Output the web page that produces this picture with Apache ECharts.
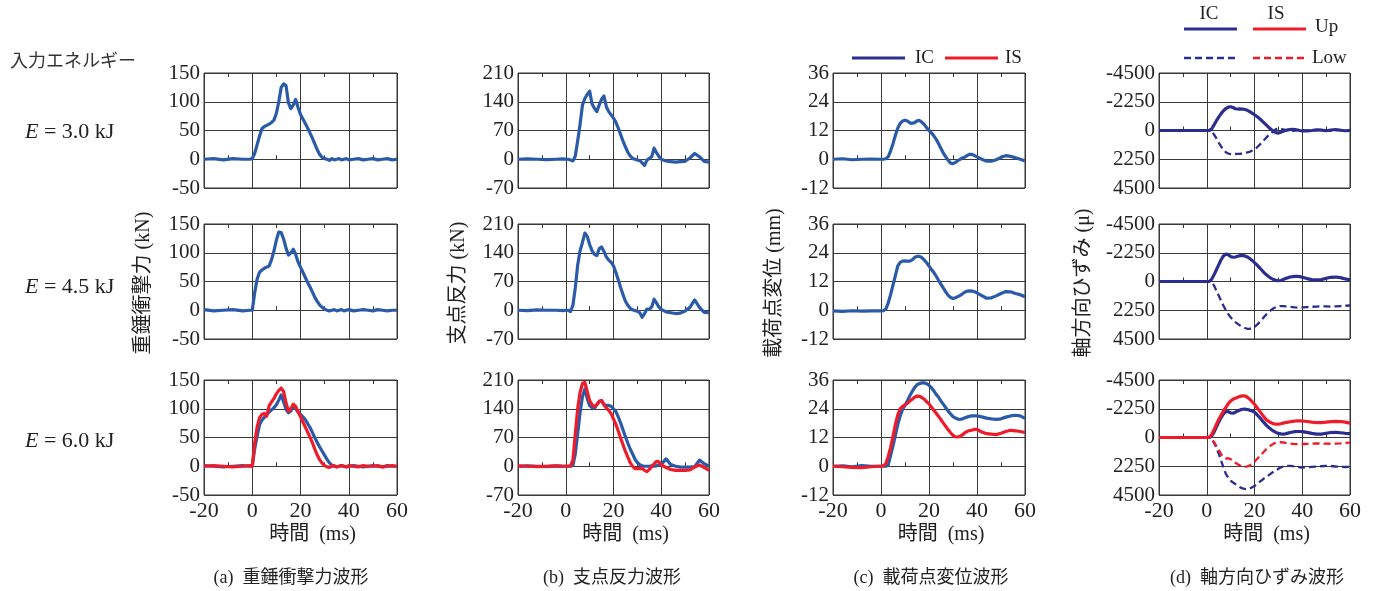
<!DOCTYPE html>
<html>
<head>
<meta charset="utf-8">
<script src="https://cdn.jsdelivr.net/npm/echarts@6/dist/echarts.min.js"></script>
<style>
html,body{margin:0;padding:0;background:#fff;}
#c{width:1379px;height:591px;}
</style>
</head>
<body>
<div id="c"></div>
<script>
// shared time axis (ms)
const time = [-20,-16,-12,-8,-4,-1,
  0,1,2,3,4,5,6,7,8,9,10,11,12,13,14,15,16,17,18,19,20,21,22,23,24,25,26,27,28,29,30,31,32,33,34,35,36,37,38,39,40,
  42,44,46,48,50,52,54,56,58,60];

// (a) 重錘衝撃力 (kN)
const a1_IC = [0,1,-1,1,0,0,
  1,10,25,40,53,57,59,61,64,68,80,100,125,131,128,98,88,94,104,90,78,70,62,54,45,36,26,16,8,3,1,0,-2,1,-1,0,1,-1,0,1,-1,
  0,1,-1,0,1,-1,0,1,-1,0];
const a2_IC = [1,-1,0,1,-1,0,
  0,30,54,66,70,73,75,77,88,103,122,136,135,124,108,96,100,106,97,84,75,66,57,48,40,31,22,15,9,5,2,0,-1,0,1,-1,0,1,-1,0,1,
  -1,0,1,0,-1,1,0,-1,0,0];
const a3_IC = [1,0,-1,0,1,0,
  0,30,52,72,80,85,90,94,98,102,107,115,124,112,99,93,96,105,100,94,90,86,81,74,67,58,49,41,33,26,19,12,6,2,0,-1,0,1,0,-1,0,
  1,0,-1,0,1,0,-1,1,0,0];
const a3_IS = [0,1,0,-1,0,1,
  0,40,68,84,90,92,87,105,112,118,126,132,136,130,110,96,100,108,104,95,86,77,68,59,50,40,29,19,11,5,1,-1,-2,0,1,-1,0,1,0,-1,1,
  0,-1,1,0,0,1,-1,0,1,0];

// (b) 支点反力 (kN)
const b1_IC = [0,1,0,-1,0,1,
  0,0,-2,-4,8,45,85,132,148,158,166,135,124,116,132,146,154,128,116,108,100,90,76,60,44,30,17,8,2,0,-2,-3,-9,-15,-2,2,6,27,16,7,0,
  -4,-6,-7,-6,-5,3,14,6,-5,-7];
const b2_IC = [0,-1,1,0,0,-1,
  0,0,-3,12,55,110,145,165,188,180,160,145,136,133,150,154,143,130,122,117,108,92,74,55,38,22,12,5,1,-1,-2,-6,-17,-8,3,2,8,27,18,8,2,
  -4,-6,-8,-7,-2,7,25,7,-5,-6];
const b3_IC = [0,1,0,-1,1,0,
  0,0,0,2,30,80,130,170,188,165,148,143,141,150,158,160,150,148,148,146,140,133,120,105,88,72,56,42,30,17,9,4,1,0,0,0,1,0,1,3,4,
  18,4,0,-2,-2,-2,-1,15,6,0];
const b3_IS = [1,0,-1,0,1,0,
  0,0,1,15,80,140,180,202,204,182,160,150,145,150,157,160,150,142,136,128,115,102,86,68,52,36,22,9,0,-6,-6,-6,-5,-10,-13,-8,-1,6,12,11,3,
  -3,-8,-10,-10,-10,-9,-2,3,-3,-10];

// (c) 載荷点変位 (mm)
const c1_IC = [0,0.2,-0.2,0,0.1,0,
  0,0,0.2,1,3.5,6.5,10,13,15,16,16.3,16,15.2,15,15.3,16,16.2,15.5,14.5,13.2,12,11,9.8,8.3,6.5,4.5,2.5,1,-0.5,-1.6,-1.8,-1.3,-0.6,0,0.5,1,1.6,2.1,2,1.5,1,
  0,-0.8,-0.8,-0.2,0.8,1.5,1.2,0.6,0,-0.7];
const c2_IC = [-0.3,-0.5,-0.2,-0.4,-0.3,-0.3,
  -0.3,-0.2,0.5,3,6.5,10.5,14.5,18.5,20,20.5,20.6,20.5,20.5,21,22,22.5,22.5,22,21,19.8,18.5,17,15.8,14.2,12.5,10.8,9.2,7.6,6.2,5.3,4.9,5.2,5.7,6.2,6.9,7.6,8,8.1,8,7.7,7.3,
  6.1,5,5.2,6,7,7.8,7.7,7,6.5,5.6];
const c3_IC = [0,0.2,-0.2,0.3,0,0,
  0,0,0,0.5,4.5,8.5,13,17.5,21,23.8,25.5,27.3,29.4,31.2,32.8,34,34.5,34.8,34.8,34.5,33.8,32.8,31.5,30,28.8,27.2,25.8,24.4,23,21.8,20.7,20.1,19.7,19.6,19.8,20.2,20.6,20.9,21,21,21,
  20.6,20.1,19.8,19.6,19.8,20.5,21,21.3,21,20];
const c3_IS = [0,-0.2,-0.5,-0.6,-0.2,0,
  0,0.2,1,4,7.8,12.5,17.5,21.5,24,25,25.6,26.3,27.2,28,28.8,29.3,29.2,28.7,28,27,26,24.7,23.4,22.1,20.8,19.4,18,16.6,15.2,14,12.9,12.3,12.2,12.5,13.2,14,14.6,14.9,15.1,15.4,15.4,
  14.3,13.6,13.4,13.2,13.8,14.5,15,14.8,14.5,14.1];

// (d) 軸方向ひずみ (μ)
const d1_IC_up = [0,0,0,0,0,0,
  0,0,-100,-420,-750,-1050,-1320,-1550,-1720,-1830,-1860,-1800,-1700,-1680,-1690,-1680,-1640,-1580,-1480,-1360,-1230,-1100,-950,-780,-600,-420,-240,-80,60,170,200,130,60,0,-50,-80,-100,-80,-40,0,30,
  40,0,-60,-30,20,-40,-80,-20,20,0];
const d1_IC_low = [0,0,0,0,0,0,
  0,0,30,300,600,950,1250,1500,1700,1800,1850,1860,1840,1830,1820,1800,1770,1720,1670,1560,1450,1330,1150,950,750,540,350,200,50,-100,-150,-130,-80,-50,-30,0,20,0,-30,-50,-30,
  0,30,-20,-60,-20,30,-10,-50,0,20];
const d2_IC_up = [0,0,0,0,0,0,
  0,0,-150,-500,-900,-1300,-1700,-2000,-2150,-2100,-1950,-1900,-1920,-1980,-2020,-2030,-2000,-1920,-1800,-1650,-1480,-1300,-1100,-900,-700,-520,-370,-250,-150,-90,-60,-80,-150,-230,-300,-350,-380,-400,-400,-380,-330,
  -230,-150,-120,-150,-250,-330,-350,-300,-200,-130];
const d2_IC_low = [0,0,0,0,0,0,
  0,0,50,300,700,1100,1500,1900,2250,2550,2800,3000,3180,3320,3450,3560,3640,3700,3700,3650,3550,3400,3200,3000,2780,2560,2380,2220,2100,2000,1950,1920,1920,1940,1960,1990,2010,2030,2040,2040,2030,
  2000,1980,1960,1950,1950,1960,1940,1920,1900,1880];
const d3_IC_up = [0,0,0,0,0,0,
  0,0,-100,-400,-800,-1200,-1560,-1850,-2030,-2030,-1920,-1900,-1980,-2080,-2160,-2210,-2220,-2190,-2140,-2080,-1980,-1800,-1600,-1380,-1160,-950,-780,-630,-500,-400,-320,-280,-270,-290,-340,-390,-430,-460,-470,-470,-460,
  -400,-320,-260,-270,-330,-390,-400,-370,-330,-310];
const d3_IC_low = [0,0,0,0,0,0,
  0,0,100,400,780,1250,1800,2350,2850,3150,3380,3520,3650,3780,3900,3980,4030,4040,4000,3900,3800,3650,3500,3350,3200,3100,2950,2800,2680,2580,2450,2350,2280,2240,2220,2220,2240,2270,2300,2330,2350,
  2330,2300,2280,2250,2220,2230,2270,2300,2310,2300];
const d3_IS_up = [0,0,0,0,0,0,
  0,-30,-200,-600,-1000,-1400,-1750,-2080,-2350,-2650,-2850,-3000,-3080,-3150,-3220,-3260,-3250,-3150,-3000,-2800,-2600,-2350,-2100,-1850,-1600,-1380,-1250,-1150,-1080,-1040,-1040,-1080,-1130,-1170,-1200,-1230,-1260,-1290,-1300,-1300,-1290,
  -1250,-1200,-1170,-1170,-1200,-1240,-1260,-1250,-1200,-1120];
const d3_IS_low = [0,0,0,0,0,0,
  0,0,100,350,650,950,1300,1560,1650,1620,1700,1850,1980,2100,2200,2270,2290,2260,2200,2080,1900,1700,1500,1300,1100,900,750,600,480,400,370,370,390,420,450,480,500,520,520,520,510,
  500,480,470,470,480,490,480,460,430,400];

// tick labels / text
const xTicks = {min:-20, max:60, interval:20};
const yScales = [
  {min:-50, max:150, interval:50, inverse:false},
  {min:-70, max:210, interval:70, inverse:false},
  {min:-12, max:36, interval:12, inverse:false},
  {min:-4500, max:4500, interval:2250, inverse:true}
];
const energyLabels = ['3.0 kJ','4.5 kJ','6.0 kJ'];
const yTitles = ['重錘衝撃力 (kN)','支点反力 (kN)','載荷点変位 (mm)','軸方向ひずみ (μ)'];
const captions = ['(a)  重錘衝撃力波形','(b)  支点反力波形','(c)  載荷点変位波形','(d)  軸方向ひずみ波形'];
const xTitle = '時間  (ms)';

// layout
const colX = [204, 518, 833, 1159];
const colW = [193, 191, 192, 191];
const rowY = [73, 224, 380];
const rowH = 115;

const BLUE = '#2a5aa8', NAVY = '#2b2e8e', RED = '#ee1c2a';
const SERIF = '"Liberation Serif","Times New Roman","Noto Sans CJK JP",serif';
const JP = '"Liberation Serif","Noto Sans CJK JP",sans-serif';

// panel contents: [col][row] -> list of {data, color, dashed}
const panels = [
  [[{d:a1_IC,c:BLUE}],[{d:a2_IC,c:BLUE}],[{d:a3_IC,c:BLUE},{d:a3_IS,c:RED}]],
  [[{d:b1_IC,c:BLUE}],[{d:b2_IC,c:BLUE}],[{d:b3_IC,c:BLUE},{d:b3_IS,c:RED}]],
  [[{d:c1_IC,c:BLUE}],[{d:c2_IC,c:BLUE}],[{d:c3_IC,c:BLUE},{d:c3_IS,c:RED}]],
  [[{d:d1_IC_up,c:NAVY},{d:d1_IC_low,c:NAVY,dash:true}],
   [{d:d2_IC_up,c:NAVY},{d:d2_IC_low,c:NAVY,dash:true}],
   [{d:d3_IC_up,c:NAVY},{d:d3_IC_low,c:NAVY,dash:true},{d:d3_IS_up,c:RED},{d:d3_IS_low,c:RED,dash:true}]]
];

const grids=[], xAxes=[], yAxes=[], series=[];
const gridLine = {color:'#3a3a3a', width:1};
for (let c=0;c<4;c++){
  for (let r=0;r<3;r++){
    const g = grids.length;
    grids.push({left:colX[c], top:rowY[r], width:colW[c], height:rowH, show:true, borderColor:'#333', borderWidth:1, containLabel:false});
    const tick = {show:true, inside:true, length:4, lineStyle:{color:'#333'}};
    const minor = {show:true, splitNumber:2, length:4, lineStyle:{color:'#333'}};
    xAxes.push({gridIndex:g, type:'value', min:xTicks.min, max:xTicks.max, interval:xTicks.interval, position:'bottom',
      axisLine:{show:false}, axisTick:tick, minorTick:minor, splitLine:{show:true, lineStyle:gridLine},
      axisLabel:{show:r===2, fontFamily:SERIF, fontSize:22, color:'#222', margin:5, formatter:v=>String(v)}});
    xAxes.push({gridIndex:g, type:'value', min:xTicks.min, max:xTicks.max, interval:xTicks.interval, position:'top',
      axisLine:{show:false}, axisTick:tick, minorTick:minor, splitLine:{show:false}, axisLabel:{show:false}});
    const ys = yScales[c];
    yAxes.push({gridIndex:g, type:'value', min:ys.min, max:ys.max, interval:ys.interval, inverse:ys.inverse,
      axisLine:{show:false}, axisTick:{show:false}, splitLine:{show:true, lineStyle:gridLine},
      axisLabel:{fontFamily:SERIF, fontSize:21, color:'#222', margin:4, formatter:v=>String(v)}});
    panels[c][r].forEach(s=>{
      series.push({type:'line', xAxisIndex:2*g, yAxisIndex:g, showSymbol:false, animation:false,
        data: time.map((t,i)=>[t, s.d[i]]),
        lineStyle:{color:s.c, width:s.dash?2.3:3.2, type:s.dash?[7,4]:'solid', join:'round'}, itemStyle:{color:s.c}, z:3});
    });
  }
}

const graphics = [];
function txt(x,y,text,opt){ graphics.push(Object.assign({type:'text', x, y, style:Object.assign({text, fill:'#222', font:'18px '+JP, textAlign:'left', textVerticalAlign:'middle'}, opt||{})})); }
txt(10,60,'入力エネルギー',{font:'18px "Noto Sans CJK JP",sans-serif', fill:'#333'});
const eY = [132, 287, 441];
energyLabels.forEach((e,i)=>{
  graphics.push({type:'text', x:25, y:eY[i], style:{text:'{i|E}{n| = '+e+'}', textVerticalAlign:'middle', rich:{
    i:{font:'italic 22px '+SERIF, fill:'#222'}, n:{font:'22px '+SERIF, fill:'#222'}}}});
});
const titleX = [144, 459, 775, 1084];
yTitles.forEach((t,i)=>{
  graphics.push({type:'text', x:titleX[i], y:283, rotation:Math.PI/2, style:{text:t, font:'20px '+JP, fill:'#222', textAlign:'center', textVerticalAlign:'middle'}});
});
for (let c=0;c<4;c++){
  const cx = colX[c]+colW[c]/2+12;
  txt(cx,535,xTitle,{font:'20px '+JP, textAlign:'center'});
}
const capX = [291, 612, 931, 1257];
captions.forEach((t,i)=>txt(capX[i],578,t,{font:'18px '+JP, textAlign:'center'}));

// legends
function seg(x1,y,x2,color,dash,w){ graphics.push({type:'line', shape:{x1,y1:y,x2,y2:y}, style:{stroke:color, lineWidth:w||3, lineDash:dash?[7,4]:null}}); }
seg(852,58,905,NAVY); txt(915,58,'IC',{font:'19px '+SERIF});
seg(945,58,998,RED); txt(1005,58,'IS',{font:'19px '+SERIF});
txt(1209,14,'IC',{font:'19px '+SERIF, textAlign:'center'});
txt(1276,14,'IS',{font:'19px '+SERIF, textAlign:'center'});
seg(1184,29,1237,NAVY); seg(1253,29,1306,RED);
txt(1315,27,'Up',{font:'19px '+SERIF});
seg(1184,58,1237,NAVY,true,2.5); seg(1253,58,1306,RED,true,2.5);
txt(1312,58,'Low',{font:'19px '+SERIF});

const chart = echarts.init(document.getElementById('c'));
chart.setOption({animation:false, backgroundColor:'#fff', grid:grids, xAxis:xAxes, yAxis:yAxes, series, graphic:graphics});
</script>
</body>
</html>
